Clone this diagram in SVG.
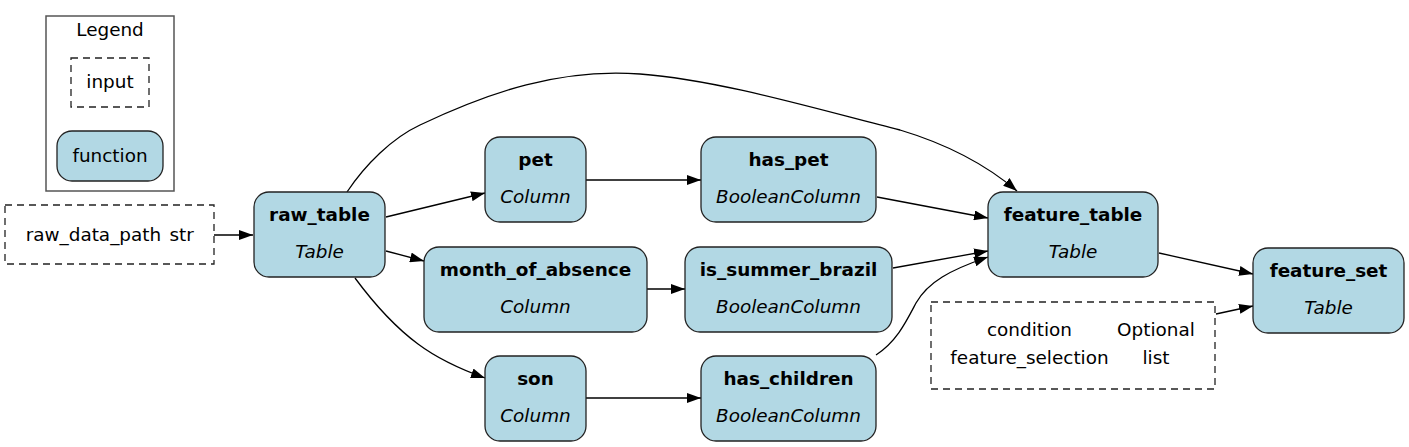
<svg xmlns="http://www.w3.org/2000/svg" width="1409" height="447" viewBox="0 0 1409 447">
<style>
text{font-family:"DejaVu Sans","Liberation Sans",sans-serif;font-size:18.4px;fill:#000;text-anchor:middle}
.b{font-weight:bold}
.i{font-style:italic}
.fn{fill:#b2d8e4;stroke:#222;stroke-width:1.3}
.in{fill:#fff;stroke:#222;stroke-width:1.3;stroke-dasharray:7,5}
.e{fill:none;stroke:#000;stroke-width:1.3;marker-end:url(#ah)}
</style>
<defs>
<marker id="ah" markerUnits="userSpaceOnUse" markerWidth="14" markerHeight="10" refX="14" refY="5" orient="auto">
<path d="M0,0 L14,5 L0,10 z" fill="#000"/>
</marker>
</defs>
<rect width="1409" height="447" fill="#fff"/>
<g id="legend">
<rect x="46" y="16" width="128" height="175" fill="none" stroke="#555" stroke-width="1.5"/>
<text x="110" y="36">Legend</text>
<rect class="in" x="71" y="58" width="78" height="49"/>
<text x="110" y="88">input</text>
<rect class="fn" x="57" y="131" width="106" height="50" rx="15"/>
<text x="110" y="162">function</text>
</g>
<g id="connectors">
<path class="e" d="M214,235 L253,235"/>
<path class="e" d="M386,217 L485,193"/>
<path class="e" d="M386,251 L424,261"/>
<path class="e" d="M355,278 C375,305 395,327 418,344 C438,359 460,369 485,378"/>
<path class="e" d="M347,192 C365,165 392,138 420,125 C490,92 560,68 640,74 C720,80 820,110 900,130 C950,145 990,168 1017,191"/>
<path class="e" d="M586,180 L701,180"/>
<path class="e" d="M647,289 L685,289"/>
<path class="e" d="M586,398 L701,398"/>
<path class="e" d="M877,197 L988,218"/>
<path class="e" d="M893,268 L988,251"/>
<path class="e" d="M876,355 C897,341 906,322 916,303 C928,282 950,270 988,257"/>
<path class="e" d="M1159,253 L1253,274"/>
<path class="e" d="M1216,314 L1253,306"/>
</g>
<g id="raw_data_path">
<rect class="in" x="5" y="205" width="209" height="59"/>
<text x="93.4" y="241">raw_data_path</text>
<text x="181.7" y="241">str</text>
</g>
<g id="raw_table">
<rect class="fn" x="254" y="192" width="131" height="85" rx="15"/>
<text class="b" x="319.5" y="221">raw_table</text>
<text class="i" x="319.5" y="258">Table</text>
</g>
<g id="pet">
<rect class="fn" x="485" y="137" width="101" height="85" rx="15"/>
<text class="b" x="535.5" y="166">pet</text>
<text class="i" x="535.5" y="203">Column</text>
</g>
<g id="has_pet">
<rect class="fn" x="701" y="137" width="175" height="85" rx="15"/>
<text class="b" x="788.5" y="166">has_pet</text>
<text class="i" x="788.5" y="203">BooleanColumn</text>
</g>
<g id="month_of_absence">
<rect class="fn" x="424" y="247" width="223" height="85" rx="15"/>
<text class="b" x="535.5" y="276">month_of_absence</text>
<text class="i" x="535.5" y="313">Column</text>
</g>
<g id="is_summer_brazil">
<rect class="fn" x="685" y="247" width="207" height="85" rx="15"/>
<text class="b" x="788.5" y="276">is_summer_brazil</text>
<text class="i" x="788.5" y="313">BooleanColumn</text>
</g>
<g id="son">
<rect class="fn" x="485" y="356" width="101" height="85" rx="15"/>
<text class="b" x="535.5" y="385">son</text>
<text class="i" x="535.5" y="422">Column</text>
</g>
<g id="has_children">
<rect class="fn" x="701" y="356" width="175" height="85" rx="15"/>
<text class="b" x="788.5" y="385">has_children</text>
<text class="i" x="788.5" y="422">BooleanColumn</text>
</g>
<g id="feature_table">
<rect class="fn" x="988" y="192" width="170" height="85" rx="15"/>
<text class="b" x="1073" y="221">feature_table</text>
<text class="i" x="1073" y="258">Table</text>
</g>
<g id="condition_feature_selection">
<rect class="in" x="931" y="302" width="284" height="87"/>
<text x="1029.5" y="336">condition</text>
<text x="1156" y="336">Optional</text>
<text x="1029.5" y="364">feature_selection</text>
<text x="1156" y="364">list</text>
</g>
<g id="feature_set">
<rect class="fn" x="1253" y="248" width="151" height="85" rx="15"/>
<text class="b" x="1328.5" y="277">feature_set</text>
<text class="i" x="1328.5" y="314">Table</text>
</g>
</svg>
